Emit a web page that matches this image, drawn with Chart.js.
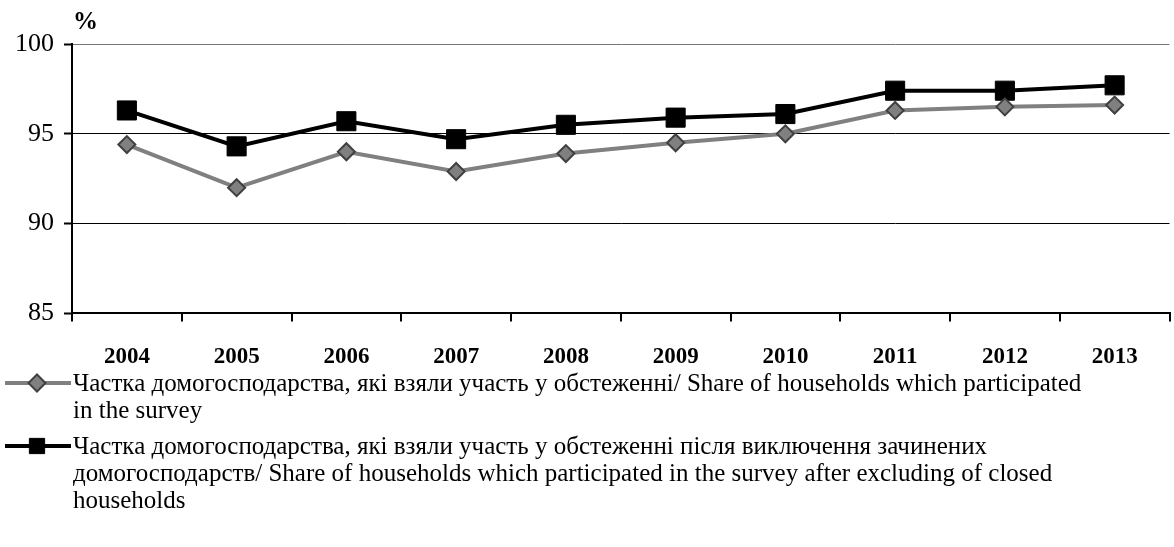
<!DOCTYPE html>
<html>
<head>
<meta charset="utf-8">
<script src="https://cdn.jsdelivr.net/npm/chart.js@4/dist/chart.umd.min.js"></script>
<style>
  html, body { margin: 0; padding: 0; background: #fff; overflow: hidden; }
  #wrap { width: 1184px; height: 547px; position: relative; }
</style>
</head>
<body>
<div id="wrap"><canvas id="grafico"></canvas></div>
<script>
// dati
var anni = ["2004", "2005", "2006", "2007", "2008", "2009", "2010", "2011", "2012", "2013"];
var quotaPartecipanti = [94.4, 92.0, 94.0, 92.9, 93.9, 94.5, 95.0, 96.3, 96.5, 96.6];
var quotaSenzaChiusi = [96.3, 94.3, 95.7, 94.7, 95.5, 95.9, 96.1, 97.4, 97.4, 97.7];
var tickY = [85, 90, 95, 100];

var legendaGrigia = ["Частка домогосподарства, які взяли участь у обстеженні/ Share of households which participated",
  "in the survey"];
var legendaNera = ["Частка домогосподарства, які взяли участь у обстеженні після виключення зачинених",
  "домогосподарств/ Share of households which participated in the survey after excluding of closed",
  "households"];

var serif = "'Liberation Serif', 'Times New Roman', serif";

// plugin per il simbolo % e la legenda sotto il grafico
var extraPlugin = {
  id: "extra",
  afterDraw: function(chart) {
    var ctx = chart.ctx;
    var area = chart.chartArea;
    ctx.save();
    ctx.fillStyle = "#000";
    ctx.font = "bold 25px " + serif;
    ctx.textBaseline = "middle";
    ctx.textAlign = "left";
    ctx.fillText("%", area.left + 1, 23);

    var voci = [
      { righe: legendaGrigia, y: 383, ds: chart.data.datasets[0] },
      { righe: legendaNera, y: 446, ds: chart.data.datasets[1] }
    ];
    ctx.font = "25px " + serif;
    voci.forEach(function(v) {
      var ds = v.ds;
      ctx.strokeStyle = ds.borderColor;
      ctx.lineWidth = 4;
      ctx.beginPath();
      ctx.moveTo(5, v.y);
      ctx.lineTo(71, v.y);
      ctx.stroke();
      ctx.fillStyle = ds.pointBackgroundColor;
      ctx.strokeStyle = ds.pointBorderColor;
      ctx.lineWidth = ds.pointBorderWidth;
      var r = ds.pointRadius;
      ctx.beginPath();
      if (ds.pointStyle === "rectRot") {
        ctx.moveTo(37, v.y - r);
        ctx.lineTo(37 + r, v.y);
        ctx.lineTo(37, v.y + r);
        ctx.lineTo(37 - r, v.y);
        ctx.closePath();
      } else {
        var s = r * Math.SQRT1_2 * 0.8;
        ctx.rect(37 - s, v.y - s, 2 * s, 2 * s);
      }
      ctx.fill();
      ctx.stroke();
      ctx.fillStyle = "#000";
      for (var i = 0; i < v.righe.length; i++) {
        ctx.fillText(v.righe[i], 73, v.y + 1 + i * 27);
      }
    });
    ctx.restore();
  }
};

var grafico = new Chart(document.getElementById("grafico"), {
  type: "line",
  data: {
    labels: anni,
    datasets: [{
      label: legendaGrigia.join(" "),
      data: quotaPartecipanti,
      borderColor: "#808080",
      borderWidth: 4,
      pointStyle: "rectRot",
      pointRadius: 8.5,
      pointBackgroundColor: "#808080",
      pointBorderColor: "#404040",
      pointBorderWidth: 2,
      lineTension: 0
    }, {
      label: legendaNera.join(" "),
      data: quotaSenzaChiusi,
      borderColor: "#000",
      borderWidth: 4,
      pointStyle: "rect",
      pointRadius: 13.5,
      pointBackgroundColor: "#000",
      pointBorderColor: "#000",
      pointBorderWidth: 1,
      lineTension: 0
    }]
  },
  options: {
    responsive: true,
    maintainAspectRatio: false,
    animation: false,
    layout: { padding: { top: 44, right: 0, bottom: 154, left: 5 } },
    plugins: {
      legend: { display: false },
      tooltip: { enabled: false }
    },
    scales: {
      x: {
        offset: true,
        grid: { offset: true, drawOnChartArea: false, drawTicks: true, tickLength: 8, color: "#000", lineWidth: 2 },
        border: { color: "#000", width: 2 },
        ticks: { color: "#000", font: { family: serif, size: 23, weight: "bold" }, padding: 22, maxRotation: 0 }
      },
      y: {
        min: 85,
        max: 100,
        afterBuildTicks: function(axis) {
          axis.ticks = tickY.map(function(v) { return { value: v }; });
        },
        grid: {
          // la linea del 100 è grigia nell'originale
          color: function(c) { return c.tick && c.tick.value === 100 ? "#777" : "#000"; },
          lineWidth: 1, tickLength: 8, tickColor: "#000", tickWidth: 2
        },
        border: { color: "#000", width: 2 },
        ticks: { color: "#000", font: { family: serif, size: 26 }, padding: 10 }
      }
    }
  },
  plugins: [extraPlugin]
});
</script>
</body>
</html>
